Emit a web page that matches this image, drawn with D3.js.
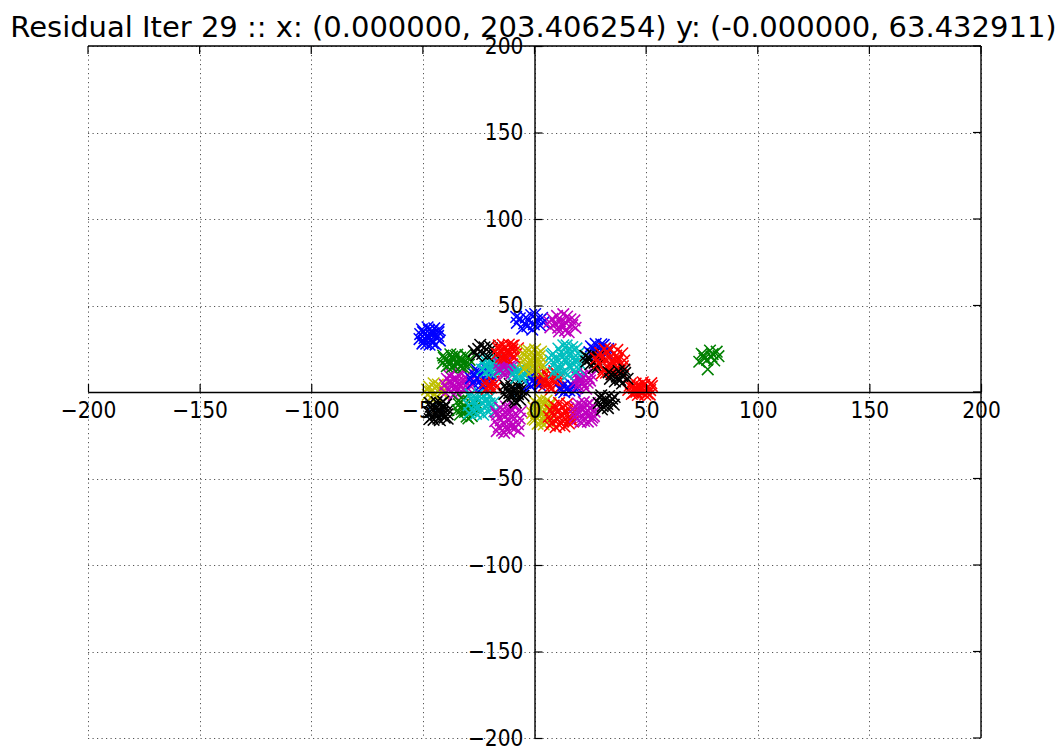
<!DOCTYPE html>
<html>
<head>
<meta charset="utf-8">
<script src="https://cdn.jsdelivr.net/npm/d3@7/dist/d3.min.js"></script>
<style>
  html, body { margin: 0; padding: 0; background: #ffffff; }
  svg { display: block; font-family: "DejaVu Sans", sans-serif; }
</style>
</head>
<body>
<svg id="chart" width="1060" height="750"></svg>
<script>
// Axis ticks (both axes share the same symmetric range)
const xTicks = [-200, -150, -100, -50, 0, 50, 100, 150, 200];
const yTicks = [-200, -150, -100, -50, 0, 50, 100, 150, 200];
const titleText = "Residual Iter 29 :: x: (0.000000, 203.406254) y: (-0.000000, 63.432911)";

// matplotlib classic colour cycle
const colorCodes = { b: "#0000ff", g: "#008000", r: "#ff0000", c: "#00bfbf", m: "#bf00bf", y: "#bfbf00", k: "#000000" };

// Residual point clusters, listed in drawing order (later ones sit on top)
const clusterColors = ["y","m","k","g","c","b","r","m","y","r","m","k","r","k","b","r","b","m","c","m","c","g","b","k","r","y","c","b","k","r","k","b","m","g"];

const clusterPoints = [
  // yellow, left on the axis
  [[-47.2,3.1],[-44.9,-1.2],[-41.6,2.7],[-40.6,-1.3],[-46.3,0.4],[-43.3,4.3],[-43.8,-2.8],[-47.8,-1.6],[-41.2,0.2],[-45.2,5.0],[-42.5,1.0],[-46.4,-3.4],[-44.6,2.2],[-48.1,1.4]],
  // magenta, left
  [[-39.2,7.6],[-35.8,2.6],[-32.0,6.8],[-30.1,2.4],[-37.2,4.6],[-33.6,9.1],[-35.0,0.2],[-38.6,1.2],[-30.9,8.5],[-36.3,7.2],[-32.8,3.8],[-40.1,4.1],[-34.0,-1.0],[-29.1,5.9],[-37.0,10.1],[-34.5,5.8],[-31.5,0.8],[-38.2,9.6],[-28.4,3.1],[-39.9,-0.4],[-33.1,11.0],[-36.1,-1.8],[-30.0,9.9],[-34.8,2.9],[-37.8,6.1],[-32.2,5.0]],
  // black, lower left
  [[-46.5,-8.5],[-44.0,-12.9],[-40.5,-9.1],[-38.9,-12.8],[-45.3,-10.9],[-42.0,-6.6],[-43.1,-15.4],[-46.0,-14.4],[-39.6,-7.2],[-44.6,-8.6],[-41.3,-11.8],[-47.2,-11.8],[-42.4,-16.3],[-38.6,-10.4],[-45.2,-16.1],[-42.8,-10.2],[-40.2,-14.8],[-46.9,-6.3],[-43.9,-5.9],[-40.9,-5.6],[-47.0,-15.6],[-38.9,-15.4],[-43.6,-10.8],[-41.6,-13.5]],
  // green, lower left
  [[-33.8,-7.1],[-31.1,-11.5],[-27.7,-7.8],[-26.4,-12.0],[-32.6,-9.9],[-29.5,-5.2],[-30.4,-14.2],[-33.4,-13.1],[-27.2,-6.1],[-31.6,-7.5],[-28.6,-10.6],[-34.5,-10.6],[-29.6,-15.3],[-26.9,-9.2],[-32.1,-4.3],[-28.1,-13.9],[-34.1,-5.0],[-30.6,-9.0]],
  // cyan, lower left
  [[-28.2,-3.6],[-25.0,-8.9],[-21.3,-4.6],[-19.2,-8.9],[-26.5,-7.0],[-22.7,-2.2],[-24.1,-11.7],[-27.6,-10.5],[-19.9,-2.9],[-25.6,-4.1],[-21.9,-8.0],[-29.5,-7.6],[-23.0,-13.1],[-18.3,-6.1],[-26.2,-12.6],[-23.6,-6.2],[-20.6,-11.6],[-28.7,-1.4],[-24.6,-0.5],[-21.0,-0.8],[-18.0,-11.2],[-29.3,-12.2],[-22.4,-5.2],[-25.7,-9.8],[-20.1,-6.6],[-27.4,-5.3]],
  // blue, middle left
  [[-27.3,10.6],[-24.5,6.1],[-20.7,9.9],[-19.6,5.8],[-25.9,8.1],[-22.6,12.6],[-23.7,4.2],[-27.6,5.2],[-21.1,12.9],[-25.3,11.5],[-22.2,7.5],[-28.6,7.9],[-23.2,2.7],[-19.2,9.0],[-26.4,13.4],[-24.1,9.3]],
  // red, small middle left
  [[-22.1,5.2],[-19.5,2.6],[-17.8,4.9],[-20.7,3.1],[-18.6,6.1],[-21.4,1.8],[-19.9,4.4],[-17.2,2.9]],
  // magenta, bottom
  [[-16.8,-13.1],[-13.4,-18.6],[-9.7,-14.2],[-7.4,-18.6],[-15.1,-16.4],[-11.1,-12.1],[-12.5,-21.4],[-16.0,-20.1],[-8.5,-12.6],[-14.1,-13.5],[-10.5,-17.4],[-17.6,-16.9],[-11.4,-22.9],[-6.6,-15.4],[-14.5,-22.3],[-12.1,-15.6],[-8.8,-21.1],[-17.2,-11.4],[-10.2,-10.0],[-13.6,-23.6],[-15.4,-9.2],[-12.8,-8.4],[-9.3,-8.0],[-6.0,-11.2],[-16.9,-22.6],[-7.1,-22.4],[-13.0,-11.4],[-10.6,-19.9]],
  // yellow, bottom centre
  [[-0.4,-8.9],[2.4,-14.0],[5.8,-9.6],[7.4,-14.6],[0.8,-12.3],[4.2,-7.4],[3.0,-17.5],[0.1,-16.0],[6.7,-8.0],[1.7,-10.4],[4.9,-13.1],[-1.0,-12.1],[4.1,-18.8],[7.6,-11.2],[1.4,-18.4],[3.6,-11.0],[6.1,-16.9],[0.5,-6.0],[2.9,-4.4],[5.4,-4.9],[-0.8,-15.4],[7.2,-6.3],[2.2,-7.2],[5.2,-15.7]],
  // red, bottom
  [[7.2,-10.6],[10.4,-16.1],[14.1,-12.0],[15.9,-15.8],[8.8,-13.9],[12.5,-8.9],[11.2,-19.2],[7.9,-17.6],[15.1,-9.6],[10.0,-11.4],[13.3,-14.9],[6.4,-14.3],[13.4,-19.9],[16.8,-12.4],[9.5,-20.3],[11.9,-13.0],[15.4,-18.2],[8.6,-7.8],[11.0,-6.3],[14.6,-6.9],[17.6,-9.1],[6.9,-19.5],[17.3,-17.1],[9.9,-9.0],[12.8,-17.0],[16.2,-14.6]],
  // magenta, bottom right
  [[18.6,-8.5],[21.7,-14.3],[25.1,-9.6],[26.6,-13.9],[20.1,-12.1],[23.4,-7.6],[22.2,-16.7],[19.2,-15.6],[26.0,-8.1],[21.0,-10.0],[24.3,-13.4],[18.3,-11.7],[23.9,-17.1],[26.9,-11.3],[20.6,-17.4],[22.8,-11.9],[25.5,-16.4],[19.6,-6.7],[22.1,-5.9],[24.8,-6.4],[18.1,-14.2],[25.9,-14.8],[21.5,-8.1],[23.7,-10.6]],
  // black, below the axis on the right
  [[29.3,-3.4],[32.6,-6.9],[34.8,-3.9],[30.5,-8.2],[33.4,-2.3],[31.1,-5.2],[35.5,-7.3],[28.7,-6.4],[32.9,-9.3],[34.1,-5.6],[29.9,-1.9],[31.8,-4.3],[35.9,-2.9],[30.2,-10.1]],
  // red, far right on the axis
  [[42.6,3.6],[45.6,0.1],[49.2,4.1],[51.8,1.1],[44.6,2.2],[47.9,2.8],[50.6,-0.8],[43.6,-1.1],[48.5,5.6],[46.3,-1.7],[52.6,3.4],[42.0,1.2],[47.1,0.7],[50.0,1.9],[45.3,4.9],[51.6,-1.5],[44.4,-0.4],[48.4,-0.2],[46.2,3.5],[43.2,5.0],[49.6,-1.6],[52.3,5.1],[45.9,1.4],[50.9,3.1]],
  // black, at the origin
  [[-12.6,1.9],[-9.8,-2.4],[-6.0,1.3],[-4.9,-2.2],[-11.3,-0.6],[-7.8,3.4],[-8.9,-4.9],[-12.0,-3.8],[-5.8,4.0],[-10.4,2.3],[-7.4,-1.2],[-13.5,-1.2],[-8.4,-6.0],[-4.3,0.5],[-11.1,4.6],[-6.5,-4.4],[-9.2,0.6],[-13.2,3.9]],
  // blue, small near the y axis
  [[-2.1,8.4],[0.6,5.2],[1.9,8.9],[-1.0,6.1],[0.9,10.2],[-2.4,4.6],[1.6,6.6],[-0.6,9.3],[-1.6,3.3],[2.4,4.0]],
  // red, centre right
  [[3.9,8.6],[6.3,4.8],[9.2,8.1],[10.4,4.9],[5.2,6.4],[7.8,10.1],[7.0,2.9],[4.3,3.6],[9.6,10.6],[6.1,8.9],[8.4,6.0],[3.1,6.2],[7.4,1.6],[10.8,7.4],[4.6,11.3],[11.4,2.6],[2.6,9.8],[8.9,12.1]],
  // blue, small centre right
  [[12.8,3.6],[15.6,0.9],[17.4,3.2],[14.2,1.6],[16.3,4.5],[13.3,-0.1],[15.1,2.8],[18.0,0.7],[19.2,2.4],[11.8,1.0]],
  // magenta, middle right
  [[19.2,8.4],[21.8,5.0],[24.3,8.2],[20.4,6.1],[22.9,10.1],[19.6,3.7],[23.8,5.4],[21.1,9.3],[24.9,6.6],[22.3,3.2],[18.7,10.4],[20.8,7.5],[25.6,9.6],[18.2,5.6],[23.1,1.9]],
  // cyan, upper left
  [[-23.1,17.5],[-20.2,12.8],[-17.1,18.9],[-14.4,15.2],[-21.4,15.4],[-18.2,16.7],[-23.5,13.0],[-17.0,12.1],[-20.6,19.6],[-15.1,18.0],[-21.9,11.6],[-19.0,14.3],[-15.6,11.9],[-22.5,18.8],[-17.8,19.9],[-20.0,17.6],[-13.3,16.1],[-19.5,11.2],[-16.4,14.5],[-22.0,14.6],[-14.0,13.2],[-18.8,18.1],[-16.2,16.8],[-21.1,16.9]],
  // magenta, middle left
  [[-14.9,15.6],[-11.0,12.0],[-13.9,11.1],[-10.0,16.2],[-12.8,17.1],[-15.6,12.8],[-11.8,14.3],[-9.4,12.9],[-13.3,10.2],[-12.1,18.1],[-15.8,16.8],[-10.6,10.5],[-13.4,14.6],[-9.8,14.8]],
  // cyan, small centre
  [[-8.7,12.6],[-6.0,9.4],[-3.9,12.0],[-7.4,10.5],[-5.2,13.9],[-8.2,8.2],[-4.6,9.9],[-6.9,12.9],[-9.4,10.4],[-5.6,7.6]],
  // green, upper left
  [[-40.6,19.8],[-38.1,15.9],[-35.4,20.9],[-31.6,17.1],[-36.2,18.4],[-39.3,14.9],[-33.0,14.6],[-34.6,21.6],[-30.3,20.2],[-40.9,21.1],[-37.0,14.3],[-32.8,18.4],[-36.9,20.5],[-29.4,15.8],[-38.6,17.8],[-34.2,16.2],[-30.9,21.4],[-41.2,16.6],[-33.3,19.9],[-35.8,15.2],[-37.7,21.8],[-31.8,14.2],[-39.8,18.8],[-29.1,18.6],[-35.0,17.3],[-32.1,16.4]],
  // blue, far upper left
  [[-51.2,33.5],[-49.6,29.1],[-47.3,35.9],[-44.1,31.4],[-48.2,32.2],[-45.6,28.3],[-50.4,36.2],[-43.0,34.6],[-47.0,27.3],[-51.5,30.6],[-44.9,36.8],[-48.9,33.9],[-46.1,30.4],[-42.4,29.7],[-47.9,37.4],[-50.2,28.0],[-46.5,33.2],[-44.3,27.4],[-49.3,31.1],[-45.2,34.1],[-43.2,32.4],[-47.4,30.8],[-45.8,35.2],[-49.9,34.6],[-42.9,36.1],[-48.5,27.9]],
  // black, sparse upper left
  [[-25.2,24.9],[-21.0,20.8],[-19.0,25.2],[-23.4,22.0],[-20.1,26.6],[-26.0,21.3],[-22.4,25.8],[-18.3,22.6],[-24.3,27.3],[-27.1,23.6]],
  // red, upper centre
  [[-16.3,25.4],[-13.4,21.1],[-10.1,26.7],[-11.2,23.1],[-16.8,22.0],[-14.2,27.3],[-8.2,22.0],[-12.6,19.8],[-9.9,24.6],[-15.0,20.2],[-8.9,19.9],[-13.1,25.6],[-16.0,26.9],[-11.5,27.4],[-7.4,25.3],[-14.5,23.6],[-10.6,21.4],[-12.3,24.1],[-15.5,24.0],[-9.3,27.0],[-13.8,19.6],[-11.8,22.3]],
  // yellow, upper centre
  [[-4.8,21.4],[-1.9,15.7],[1.6,22.1],[-0.5,19.2],[-3.8,14.6],[2.7,17.0],[-2.7,24.1],[0.8,13.6],[-5.1,17.9],[2.3,20.6],[-1.0,12.4],[-3.4,20.1],[0.3,24.6],[3.2,14.8],[-4.6,13.1],[-1.5,22.8],[1.1,17.7],[-2.9,16.9],[-0.2,15.4],[2.9,23.4],[-4.2,23.9],[1.8,11.9],[-1.6,18.8],[0.4,20.9]],
  // cyan, large upper right
  [[8.3,22.1],[11.4,15.8],[14.8,24.2],[17.9,18.1],[12.4,20.0],[16.3,13.9],[9.6,13.4],[19.6,22.3],[13.2,11.6],[16.9,26.0],[7.4,18.2],[20.4,16.3],[10.7,25.1],[14.1,17.6],[18.4,11.8],[11.6,10.3],[15.6,21.2],[10.1,19.3],[21.0,20.2],[12.9,27.0],[17.2,16.4],[8.6,11.2],[14.9,10.1],[18.8,25.2],[12.0,22.9],[15.4,14.9],[9.1,16.6],[19.9,13.2],[13.7,19.1],[16.6,23.4],[11.1,12.8],[7.6,21.2],[17.6,20.0],[14.4,26.9]],
  // blue, upper right
  [[25.3,26.4],[28.3,22.0],[31.6,25.3],[27.0,24.3],[29.9,27.6],[26.1,21.4],[32.4,22.1],[29.1,25.1],[24.6,23.0],[30.6,20.5],[27.4,27.8],[33.0,24.9],[28.5,20.2],[26.3,25.0],[31.0,27.2],[25.7,22.0]],
  // black, upper right
  [[23.8,19.9],[26.9,16.9],[28.4,20.4],[25.0,16.0],[27.7,18.9],[23.2,17.6],[26.0,21.5],[29.1,16.4],[24.9,19.2],[28.2,14.4],[22.8,20.9],[26.6,13.9]],
  // red, upper right
  [[29.6,20.1],[32.9,14.6],[36.6,21.0],[34.7,17.7],[30.9,13.1],[38.2,15.8],[32.3,23.3],[35.8,12.1],[28.6,16.8],[34.1,24.6],[37.4,19.0],[31.5,18.5],[35.1,10.4],[39.3,22.4],[32.0,11.2],[36.3,15.3],[29.4,22.6],[33.6,20.0],[38.6,12.6],[34.3,16.1],[40.2,18.2],[30.2,10.8],[37.1,24.3],[27.6,19.4],[33.3,13.0],[36.9,17.6],[31.3,25.0],[39.6,14.9]],
  // black, sparse right
  [[34.5,10.2],[38.4,7.0],[40.6,11.0],[36.0,6.1],[39.3,9.2],[33.8,7.6],[37.7,12.1],[41.7,7.6],[36.9,8.9],[39.2,4.9],[33.2,11.4],[40.3,13.0]],
  // blue, top near the y axis
  [[-6.6,42.6],[-3.2,38.0],[1.1,41.9],[-1.5,44.5],[-4.6,39.6],[2.4,38.6],[-2.5,41.2],[-5.5,36.6],[0.3,45.1],[-7.9,40.0],[-1.0,36.0],[3.4,42.8],[-3.9,43.0],[-0.3,39.1],[4.0,40.2],[-8.2,43.4]],
  // magenta, top
  [[8.0,42.3],[10.6,37.2],[14.6,43.6],[16.9,38.6],[9.4,39.5],[12.9,45.0],[13.7,35.5],[7.1,37.4],[16.1,42.0],[11.4,40.9],[10.1,44.0],[15.3,34.6],[17.9,41.4],[12.4,38.5],[6.6,40.4],[14.1,39.9],[18.4,37.1],[11.0,35.0]],
  // green, isolated far right
  [[74.9,22.1],[77.3,18.6],[79.8,21.9],[82.4,20.7],[76.1,19.3],[78.6,24.0],[80.5,18.2],[73.8,17.5],[77.6,13.1],[79.3,20.4],[81.6,23.3],[75.6,21.2]]
];

const svg = d3.select("#chart");
const plotLeft = 88, plotRight = 981, plotTop = 46, plotBottom = 738;

const x = d3.scaleLinear().domain([-200, 200]).range([plotLeft, plotRight]);
const y = d3.scaleLinear().domain([-200, 200]).range([plotBottom, plotTop]);

// dotted grid
const grid = svg.append("g").attr("stroke", "#555").attr("stroke-width", 1)
  .attr("stroke-dasharray", "1.2,3.3").attr("fill", "none");
grid.selectAll("line.gx").data(xTicks).join("line").attr("class", "gx")
  .attr("x1", d => Math.round(x(d)) + 0.5).attr("x2", d => Math.round(x(d)) + 0.5)
  .attr("y1", plotTop).attr("y2", plotBottom);
grid.selectAll("line.gy").data(yTicks).join("line").attr("class", "gy")
  .attr("y1", d => Math.round(y(d)) + 0.5).attr("y2", d => Math.round(y(d)) + 0.5)
  .attr("x1", plotLeft).attr("x2", plotRight);

// scatter of 'x' markers
const half = 5.8;
const markerPath = `M${-half},${-half}L${half},${half}M${-half},${half}L${half},${-half}`;
const plot = svg.append("g");
clusterPoints.forEach((pts, i) => {
  plot.append("g")
    .attr("stroke", colorCodes[clusterColors[i]])
    .attr("stroke-width", 1.55)
    .attr("fill", "none")
    .selectAll("path").data(pts).join("path")
    .attr("transform", d => `translate(${x(d[0])},${y(d[1])})`)
    .attr("d", markerPath);
});

// centred spines with inward ticks
const tickFont = "DejaVu Sans Condensed, DejaVu Sans, sans-serif";
const fontSize = 22.5;
const xAxis = svg.append("g")
  .attr("transform", `translate(0,${y(0)})`)
  .call(d3.axisBottom(x).tickValues(xTicks).tickSizeInner(-8).tickSizeOuter(0).tickPadding(10));
const yAxis = svg.append("g")
  .attr("transform", `translate(${x(0)},0)`)
  .call(d3.axisLeft(y).tickValues(yTicks).tickSizeInner(-8).tickSizeOuter(0).tickPadding(11));
[xAxis, yAxis].forEach(g => {
  g.attr("font-family", tickFont).attr("font-size", fontSize);
  g.select(".domain").attr("stroke", "#000").attr("stroke-width", 1.4);
  g.selectAll(".tick line").attr("stroke", "#000").attr("stroke-width", 1.2);
  g.selectAll(".tick text").attr("fill", "#000");
});

// top and right frame with ticks
const frame = svg.append("g").attr("stroke", "#000").attr("fill", "none");
frame.append("line").attr("x1", plotLeft).attr("x2", plotRight).attr("y1", plotTop).attr("y2", plotTop).attr("stroke-width", 1.4);
frame.append("line").attr("x1", plotRight).attr("x2", plotRight).attr("y1", plotTop).attr("y2", plotBottom).attr("stroke-width", 1.4);
frame.selectAll("line.tt").data(xTicks).join("line").attr("class", "tt")
  .attr("x1", d => x(d)).attr("x2", d => x(d)).attr("y1", plotTop).attr("y2", plotTop + 8).attr("stroke-width", 1.2);
frame.selectAll("line.tr").data(yTicks).join("line").attr("class", "tr")
  .attr("y1", d => y(d)).attr("y2", d => y(d)).attr("x1", plotRight).attr("x2", plotRight - 8).attr("stroke-width", 1.2);

// title
svg.append("text")
  .attr("x", 533.5).attr("y", 37)
  .attr("text-anchor", "middle")
  .attr("font-family", "DejaVu Sans, sans-serif")
  .attr("font-size", 29)
  .attr("fill", "#000")
  .text(titleText);
</script>
</body>
</html>
